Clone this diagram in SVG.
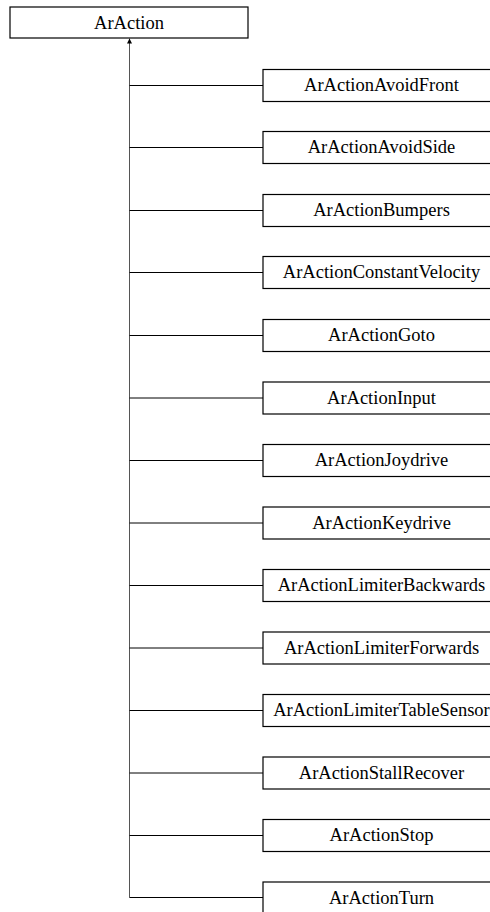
<svg xmlns="http://www.w3.org/2000/svg" width="490" height="912" viewBox="0 0 490 912">
<style>
rect{fill:#fff;stroke:#000;stroke-width:1.2}
text{font-family:"Liberation Serif","Times New Roman",serif;font-size:18.5px;fill:#000;text-anchor:middle}
.c line{stroke:#000;stroke-width:1}
</style>
<defs>
<marker id="ah" viewBox="0 0 10 10" refX="10" refY="5" markerWidth="5" markerHeight="6" orient="auto" markerUnits="userSpaceOnUse">
<path d="M0,0 L10,5 L0,10 z" fill="#000"/>
</marker>
</defs>
<rect fill="#fff" style="stroke:none" x="0" y="0" width="490" height="912"/>
<g class="c" id="connectors">
<line x1="129.5" y1="897.5" x2="129.5" y2="38.5" marker-end="url(#ah)" style="stroke:#555"/>
<line x1="129.5" y1="85.5" x2="263" y2="85.5"/>
<line x1="129.5" y1="147.5" x2="263" y2="147.5"/>
<line x1="129.5" y1="210.5" x2="263" y2="210.5"/>
<line x1="129.5" y1="272.5" x2="263" y2="272.5"/>
<line x1="129.5" y1="335.5" x2="263" y2="335.5"/>
<line x1="129.5" y1="398" x2="263" y2="398"/>
<line x1="129.5" y1="460.5" x2="263" y2="460.5"/>
<line x1="129.5" y1="523" x2="263" y2="523"/>
<line x1="129.5" y1="585.5" x2="263" y2="585.5"/>
<line x1="129.5" y1="648" x2="263" y2="648"/>
<line x1="129.5" y1="710.5" x2="263" y2="710.5"/>
<line x1="129.5" y1="773" x2="263" y2="773"/>
<line x1="129.5" y1="835.5" x2="263" y2="835.5"/>
<line x1="129.5" y1="897.5" x2="263" y2="897.5"/>
</g>
<g id="ArAction"><rect x="10" y="7" width="238" height="31"/><text x="129" y="28.5">ArAction</text></g>
<g id="n1"><rect x="263" y="69.5" width="236" height="32"/><text x="381.5" y="91">ArActionAvoidFront</text></g>
<g id="n2"><rect x="263" y="131.5" width="236" height="32"/><text x="381.5" y="153">ArActionAvoidSide</text></g>
<g id="n3"><rect x="263" y="194.5" width="236" height="32"/><text x="381.5" y="216">ArActionBumpers</text></g>
<g id="n4"><rect x="263" y="256.5" width="236" height="32"/><text x="381.5" y="278">ArActionConstantVelocity</text></g>
<g id="n5"><rect x="263" y="319.5" width="236" height="32"/><text x="381.5" y="341">ArActionGoto</text></g>
<g id="n6"><rect x="263" y="382" width="236" height="32"/><text x="381.5" y="403.5">ArActionInput</text></g>
<g id="n7"><rect x="263" y="444.5" width="236" height="32"/><text x="381.5" y="466">ArActionJoydrive</text></g>
<g id="n8"><rect x="263" y="507" width="236" height="32"/><text x="381.5" y="528.5">ArActionKeydrive</text></g>
<g id="n9"><rect x="263" y="569.5" width="236" height="32"/><text x="381.5" y="591">ArActionLimiterBackwards</text></g>
<g id="n10"><rect x="263" y="632" width="236" height="32"/><text x="381.5" y="653.5">ArActionLimiterForwards</text></g>
<g id="n11"><rect x="263" y="694.5" width="236" height="32"/><text x="381.5" y="716">ArActionLimiterTableSensor</text></g>
<g id="n12"><rect x="263" y="757" width="236" height="32"/><text x="381.5" y="778.5">ArActionStallRecover</text></g>
<g id="n13"><rect x="263" y="819.5" width="236" height="32"/><text x="381.5" y="841">ArActionStop</text></g>
<g id="n14"><rect x="263" y="882" width="236" height="32"/><text x="381.5" y="903.5">ArActionTurn</text></g>
</svg>
